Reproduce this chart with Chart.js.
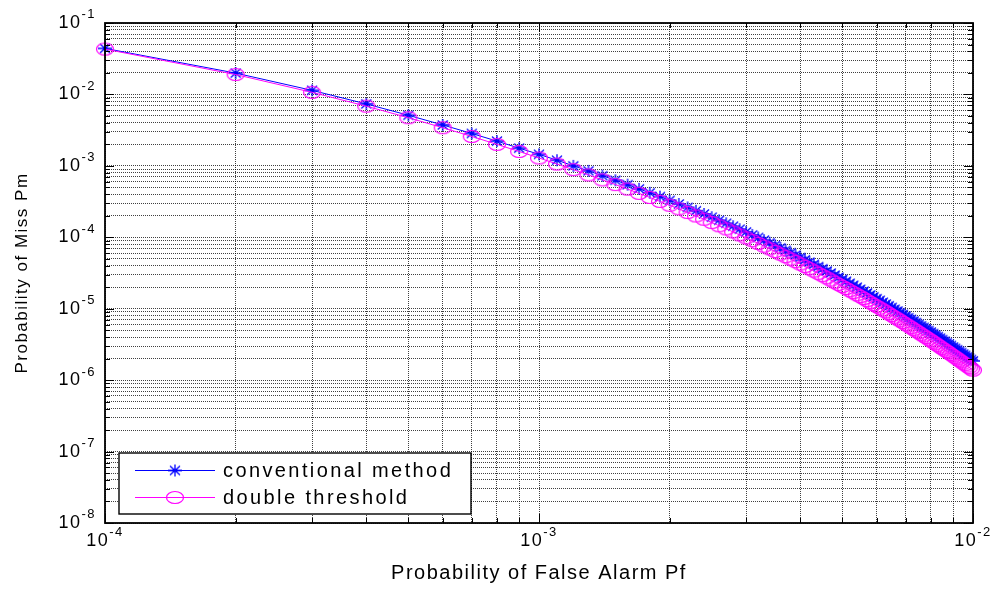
<!DOCTYPE html>
<html><head><meta charset="utf-8">
<script src="https://cdn.jsdelivr.net/npm/chart.js@4.4.1/dist/chart.umd.min.js"></script>
<style>html,body{margin:0;padding:0;background:#fff;}#wrap{width:1000px;height:589px;}</style>
</head><body><div id="wrap"><canvas id="c" width="1000" height="589"></canvas></div>
<script>
const pf = [0.0001,0.0002,0.0003,0.0004,0.0005,0.0006,0.0007,0.0008,0.0009,0.001,
0.0011,0.0012,0.0013,0.0014,0.0015,0.0016,0.0017,0.0018,0.0019,0.002,
0.0021,0.0022,0.0023,0.0024,0.0025,0.0026,0.0027,0.0028,0.0029,0.003,
0.0031,0.0032,0.0033,0.0034,0.0035,0.0036,0.0037,0.0038,0.0039,0.004,
0.0041,0.0042,0.0043,0.0044,0.0045,0.0046,0.0047,0.0048,0.0049,0.005,
0.0051,0.0052,0.0053,0.0054,0.0055,0.0056,0.0057,0.0058,0.0059,0.006,
0.0061,0.0062,0.0063,0.0064,0.0065,0.0066,0.0067,0.0068,0.0069,0.007,
0.0071,0.0072,0.0073,0.0074,0.0075,0.0076,0.0077,0.0078,0.0079,0.008,
0.0081,0.0082,0.0083,0.0084,0.0085,0.0086,0.0087,0.0088,0.0089,0.009,
0.0091,0.0092,0.0093,0.0094,0.0095,0.0096,0.0097,0.0098,0.0099,0.01];

const conventional = [4.41e-2,1.99e-2,1.14e-2,7.36e-3,5.11e-3,3.74e-3,2.84e-3,2.22e-3,1.77e-3,1.45e-3,
1.20e-3,1.00e-3,8.51e-4,7.28e-4,6.28e-4,5.46e-4,4.77e-4,4.20e-4,3.71e-4,3.29e-4,
2.93e-4,2.62e-4,2.35e-4,2.12e-4,1.91e-4,1.73e-4,1.57e-4,1.43e-4,1.30e-4,1.19e-4,
1.08e-4,9.94e-5,9.12e-5,8.39e-5,7.72e-5,7.12e-5,6.57e-5,6.08e-5,5.63e-5,5.21e-5,
4.84e-5,4.49e-5,4.18e-5,3.89e-5,3.63e-5,3.38e-5,3.16e-5,2.95e-5,2.76e-5,2.58e-5,
2.42e-5,2.27e-5,2.13e-5,2.00e-5,1.87e-5,1.76e-5,1.66e-5,1.56e-5,1.47e-5,1.38e-5,
1.31e-5,1.23e-5,1.16e-5,1.10e-5,1.04e-5,9.82e-6,9.29e-6,8.79e-6,8.33e-6,7.89e-6,
7.48e-6,7.09e-6,6.73e-6,6.38e-6,6.06e-6,5.76e-6,5.47e-6,5.20e-6,4.95e-6,4.71e-6,
4.48e-6,4.26e-6,4.06e-6,3.87e-6,3.69e-6,3.52e-6,3.35e-6,3.20e-6,3.05e-6,2.91e-6,
2.78e-6,2.66e-6,2.54e-6,2.43e-6,2.32e-6,2.22e-6,2.12e-6,2.03e-6,1.94e-6,1.86e-6];

const doubleThreshold = [4.31e-2,1.90e-2,1.07e-2,6.85e-3,4.72e-3,3.42e-3,2.58e-3,2.00e-3,1.59e-3,1.29e-3,
1.06e-3,8.85e-4,7.47e-4,6.36e-4,5.47e-4,4.73e-4,4.12e-4,3.61e-4,3.18e-4,2.81e-4,
2.50e-4,2.22e-4,1.99e-4,1.79e-4,1.61e-4,1.45e-4,1.31e-4,1.19e-4,1.08e-4,9.83e-5,
8.97e-5,8.20e-5,7.51e-5,6.89e-5,6.32e-5,5.82e-5,5.36e-5,4.95e-5,4.57e-5,4.22e-5,
3.91e-5,3.63e-5,3.37e-5,3.13e-5,2.91e-5,2.71e-5,2.52e-5,2.35e-5,2.19e-5,2.05e-5,
1.92e-5,1.79e-5,1.68e-5,1.57e-5,1.48e-5,1.39e-5,1.30e-5,1.22e-5,1.15e-5,1.08e-5,
1.02e-5,9.60e-6,9.05e-6,8.53e-6,8.05e-6,7.60e-6,7.18e-6,6.79e-6,6.42e-6,6.07e-6,
5.75e-6,5.44e-6,5.15e-6,4.89e-6,4.63e-6,4.39e-6,4.17e-6,3.96e-6,3.76e-6,3.57e-6,
3.40e-6,3.23e-6,3.07e-6,2.92e-6,2.78e-6,2.65e-6,2.52e-6,2.41e-6,2.29e-6,2.19e-6,
2.09e-6,1.99e-6,1.90e-6,1.81e-6,1.73e-6,1.65e-6,1.58e-6,1.51e-6,1.44e-6,1.38e-6];

const seriesNames = ['conventional method', 'double threshold'];
const xDecades = [1e-4, 1e-3, 1e-2];
const xTickLabels = ['10\u207B\u2074', '10\u207B\u00B3', '10\u207B\u00B2'];
const yDecades = [1e-8, 1e-7, 1e-6, 1e-5, 1e-4, 1e-3, 1e-2, 1e-1];
const yTickLabels = ['10\u207B\u2078', '10\u207B\u2077', '10\u207B\u2076', '10\u207B\u2075', '10\u207B\u2074', '10\u207B\u00B3', '10\u207B\u00B2', '10\u207B\u00B9'];
const xTitle = 'Probability of False Alarm Pf';
const yTitle = 'Probability of Miss Pm';

const FONT = "'Liberation Sans', Arial, sans-serif";
const BLUE = '#0000ff', MAGENTA = '#ff00ff';

const SUP = {'\u207B': '-', '\u2070': '0', '\u00B9': '1', '\u00B2': '2', '\u00B3': '3', '\u2074': '4',
             '\u2075': '5', '\u2076': '6', '\u2077': '7', '\u2078': '8', '\u2079': '9'};
function splitSup(s) {
  let base = '', exp = '';
  for (const ch of s) {
    if (SUP[ch] !== undefined) exp += SUP[ch];
    else if (exp) exp += ch; else base += ch;
  }
  return {base, exp};
}

// Log scale that renders "10" with a raised, smaller exponent (MATLAB style)
class SupLogScale extends Chart.LogarithmicScale {
  drawLabels(chartArea) {
    if (!this.options.ticks.display) return;
    const ctx = this.ctx;
    const items = this.getLabelItems(chartArea);
    for (const item of items) {
      const label = item.label;
      if (!label) continue;
      const o = item.options, f = item.font;
      const {base, exp} = splitSup(String(label));
      ctx.save();
      ctx.fillStyle = o.color;
      ctx.textBaseline = o.textBaseline || 'middle';
      ctx.textAlign = 'left';
      ctx.font = f.string;
      const wb = ctx.measureText(base).width;
      const es = Math.round(f.size * 0.7);
      const efont = es + 'px ' + f.family;
      ctx.font = efont;
      const we = ctx.measureText(exp).width;
      const total = wb + we;
      const tx = o.translation[0], ty = o.translation[1];
      const x0 = o.textAlign === 'right' ? tx - total : (o.textAlign === 'left' ? tx : tx - total / 2);
      const y = ty + item.textOffset;
      ctx.font = f.string; ctx.fillText(base, x0, y);
      ctx.font = efont; ctx.fillText(exp, x0 + wb, y - f.size * 0.45);
      ctx.restore();
    }
  }
}
SupLogScale.id = 'supLog';
SupLogScale.defaults = Chart.LogarithmicScale.defaults;
Chart.register(SupLogScale);

function gridValues(decades) {
  const out = [];
  decades.forEach((d, i) => {
    if (i === decades.length - 1) { out.push(d); return; }
    for (let m = 1; m <= 9; m++) out.push(Number((m * d).toPrecision(10)));
  });
  return out;
}
function labelFor(v, decades, labels) {
  const i = decades.findIndex(d => Math.abs(v / d - 1) < 1e-6);
  return i >= 0 ? labels[i] : '';
}
function isDecade(v, decades) { return decades.some(d => Math.abs(v / d - 1) < 1e-6); }

function makeStar() {
  const c = document.createElement('canvas'); c.width = 16; c.height = 14;
  const g = c.getContext('2d'); g.strokeStyle = BLUE; g.lineWidth = 1.3;
  g.beginPath();
  g.moveTo(1, 7); g.lineTo(15, 7);
  g.moveTo(8, 1); g.lineTo(8, 13);
  g.moveTo(3, 2.5); g.lineTo(13, 11.5);
  g.moveTo(13, 2.5); g.lineTo(3, 11.5);
  g.stroke();
  return c;
}
function makeEllipse() {
  const c = document.createElement('canvas'); c.width = 20; c.height = 15;
  const g = c.getContext('2d'); g.strokeStyle = MAGENTA; g.lineWidth = 1.2;
  g.beginPath(); g.ellipse(10, 7.5, 8.5, 6, 0, 0, Math.PI * 2); g.stroke();
  return c;
}
const starImg = makeStar();
const ellImg = makeEllipse();

const boxPlugin = {
  id: 'boxPlugin',
  beforeDraw(chart) { chart.ctx.letterSpacing = '1.5px'; },
  afterDatasetsDraw(chart) {
    const {ctx, chartArea: a, scales: {x, y}} = chart;
    ctx.save();
    ctx.strokeStyle = '#000'; ctx.lineWidth = 1;
    ctx.beginPath();
    y.ticks.forEach(t => {
      const py = Math.round(y.getPixelForValue(t.value)) + 0.5;
      const L = isDecade(t.value, yDecades) ? 9 : 5;
      ctx.moveTo(a.left, py); ctx.lineTo(a.left + L, py);
      ctx.moveTo(a.right, py); ctx.lineTo(a.right - L, py);
    });
    x.ticks.forEach(t => {
      const px = Math.round(x.getPixelForValue(t.value)) + 0.5;
      const L = isDecade(t.value, xDecades) ? 9 : 5;
      ctx.moveTo(px, a.bottom); ctx.lineTo(px, a.bottom - L);
      ctx.moveTo(px, a.top); ctx.lineTo(px, a.top + L);
    });
    ctx.stroke();
    ctx.lineWidth = 1.8;
    ctx.strokeRect(a.left, a.top, a.right - a.left, a.bottom - a.top);
    ctx.restore();
  },
  afterDraw(chart) {
    const {ctx, chartArea: a} = chart;
    const lx = a.left + 14, lw = 352, lh = 61, ly = a.bottom - 9 - lh;
    ctx.save();
    ctx.fillStyle = '#fff'; ctx.fillRect(lx, ly, lw, lh);
    ctx.strokeStyle = '#000'; ctx.lineWidth = 1.4; ctx.strokeRect(lx, ly, lw, lh);
    const rows = [{name: seriesNames[0], color: BLUE, img: starImg, y: ly + 17},
                  {name: seriesNames[1], color: MAGENTA, img: ellImg, y: ly + 44}];
    rows.forEach(r => {
      ctx.strokeStyle = r.color; ctx.lineWidth = 1;
      ctx.beginPath(); ctx.moveTo(lx + 16, r.y + 0.5); ctx.lineTo(lx + 96, r.y + 0.5); ctx.stroke();
      ctx.drawImage(r.img, lx + 56 - r.img.width / 2, r.y + 0.5 - r.img.height / 2);
      ctx.fillStyle = '#000';
      ctx.font = '20px ' + FONT;
      ctx.letterSpacing = '2.4px';
      ctx.textAlign = 'left'; ctx.textBaseline = 'middle';
      ctx.fillText(r.name, lx + 104, r.y + 1);
    });
    ctx.restore();
    ctx.letterSpacing = '0px';
  }
};

const gridStyle = {color: 'rgba(0,0,0,0.75)', lineWidth: 1, drawTicks: false};
const borderStyle = {display: false, dash: [1, 1]};

new Chart(document.getElementById('c'), {
  type: 'line',
  data: {
    datasets: [
      {label: seriesNames[0], data: pf.map((v, i) => ({x: v, y: conventional[i]})),
       borderColor: BLUE, backgroundColor: BLUE, borderWidth: 1, pointStyle: starImg,
       pointRadius: 6, tension: 0, clip: false, order: 1},
      {label: seriesNames[1], data: pf.map((v, i) => ({x: v, y: doubleThreshold[i]})),
       borderColor: MAGENTA, backgroundColor: MAGENTA, borderWidth: 1, pointStyle: ellImg,
       pointRadius: 6, tension: 0, clip: false, order: 0}
    ]
  },
  options: {
    responsive: false, animation: false, devicePixelRatio: 1,
    layout: {padding: {left: 0, right: 27, top: 23, bottom: 0}},
    plugins: {legend: {display: false}, tooltip: {enabled: false}},
    font: {family: FONT},
    scales: {
      x: {
        type: 'supLog', min: xDecades[0], max: xDecades[xDecades.length - 1],
        afterBuildTicks: s => { s.ticks = gridValues(xDecades).map(v => ({value: v})); },
        afterFit: s => { s.height = 66; },
        ticks: {autoSkip: false, maxRotation: 0, minRotation: 0, padding: 7, color: '#000',
                font: {family: FONT, size: 18},
                callback: v => labelFor(v, xDecades, xTickLabels)},
        grid: gridStyle, border: borderStyle,
        title: {display: true, text: xTitle, color: '#000', font: {family: FONT, size: 20}, padding: {top: 4, bottom: 4}}
      },
      y: {
        type: 'supLog', min: yDecades[0], max: yDecades[yDecades.length - 1],
        afterBuildTicks: s => { s.ticks = gridValues(yDecades).map(v => ({value: v})); },
        afterFit: s => { s.width = 105; },
        ticks: {autoSkip: false, padding: 9, color: '#000', font: {family: FONT, size: 18},
                callback: v => labelFor(v, yDecades, yTickLabels)},
        grid: gridStyle, border: borderStyle,
        title: {display: true, text: yTitle, color: '#000', font: {family: FONT, size: 17}, padding: {top: 12, bottom: 4}}
      }
    }
  },
  plugins: [boxPlugin]
});
</script>
</body></html>
